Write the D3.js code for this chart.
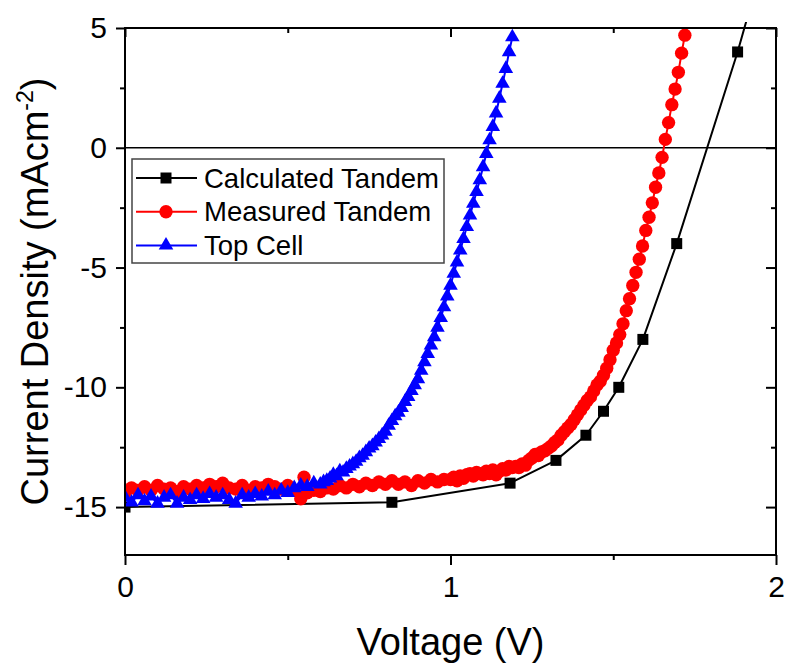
<!DOCTYPE html>
<html>
<head>
<meta charset="utf-8">
<script src="https://cdn.jsdelivr.net/npm/d3@7/dist/d3.min.js"></script>
<style>
  body { margin: 0; background: #fff; }
  svg { display: block; }
  text { font-family: "Liberation Sans", Arial, Helvetica, sans-serif; fill: #000; }
</style>
</head>
<body>
<svg id="chart" width="786" height="663"></svg>
<script>
// ---- J–V data (voltage in V, current density in mA cm^-2) ----
const seriesNames = ["Calculated Tandem", "Measured Tandem", "Top Cell"];
const seriesColors = ["#000000", "#ff0000", "#0000ff"];

const calculatedV = [0, 0.82, 1.183, 1.324, 1.416, 1.47, 1.517, 1.591, 1.695, 1.882, 1.98];
const calculatedJ = [-15, -14.8, -14.0, -13.05, -12.0, -11.0, -10.0, -8.0, -4.0, 4.0, 8.7];

const measuredV = [
  0.00, 0.02, 0.04, 0.06, 0.08, 0.10, 0.12, 0.14, 0.16, 0.18,
  0.20, 0.22, 0.24, 0.26, 0.28, 0.30, 0.32, 0.34, 0.36, 0.38,
  0.40, 0.42, 0.44, 0.46, 0.48, 0.50, 0.52, 0.54, 0.55, 0.56,
  0.58, 0.60, 0.62, 0.64, 0.66, 0.68, 0.70, 0.72, 0.74, 0.76,
  0.78, 0.80, 0.82, 0.84, 0.86, 0.88, 0.90, 0.92, 0.94, 0.96, 0.98,
  1.00, 1.01, 1.02, 1.03, 1.04, 1.05, 1.06, 1.07, 1.08, 1.09,
  1.10, 1.11, 1.12, 1.13, 1.14, 1.15, 1.16, 1.17, 1.18, 1.19,
  1.20, 1.21, 1.22, 1.23, 1.24, 1.25, 1.26, 1.27, 1.28, 1.29,
  1.30, 1.31, 1.32, 1.33, 1.34, 1.35, 1.36, 1.37, 1.38, 1.39,
  1.40, 1.41, 1.42, 1.43, 1.44, 1.45, 1.46, 1.47, 1.48, 1.49,
  1.50, 1.51, 1.52, 1.53, 1.54, 1.55, 1.56, 1.57, 1.58, 1.59,
  1.60, 1.61, 1.62, 1.63, 1.64, 1.65, 1.66, 1.67, 1.68, 1.69,
  1.70, 1.71, 1.72
];
const measuredJ = [
  -14.4, -14.2, -14.3, -14.15, -14.3, -14.1, -14.25, -14.2, -14.35, -14.15,
  -14.25, -14.1, -14.2, -14.05, -14.15, -14.0, -14.2, -14.25, -14.1, -14.3,
  -14.15, -14.2, -14.05, -14.15, -14.25, -14.1, -14.3, -14.65, -13.75, -14.4,
  -14.3, -14.35, -14.2, -14.25, -14.1, -14.2, -14.05, -14.15, -14.0, -14.1,
  -13.95, -14.05, -13.9, -14.05, -13.95, -14.1, -13.9, -14.0, -13.85, -13.95, -13.85,
  -13.85, -13.75, -13.9, -13.7, -13.8, -13.65, -13.6, -13.7, -13.55, -13.6,
  -13.65, -13.5, -13.6, -13.45, -13.65, -13.5, -13.4, -13.45, -13.3, -13.35,
  -13.3, -13.35, -13.2, -13.25, -13.05, -12.95, -12.8, -12.85, -12.7, -12.65,
  -12.55, -12.45, -12.3, -12.2, -12.0, -11.85, -11.7, -11.55, -11.35, -11.15,
  -10.95, -10.75, -10.55, -10.4, -10.15, -9.9, -9.75, -9.5, -9.2, -8.85,
  -8.45, -8.15, -7.8, -7.35, -6.8, -6.3, -5.75, -5.2, -4.65, -4.1,
  -3.45, -2.9, -2.3, -1.65, -1.05, -0.4, 0.35, 1.05, 1.8, 2.45,
  3.15, 3.95, 4.7
];

const topCellV = [
  0.00, 0.02, 0.04, 0.06, 0.08, 0.10, 0.12, 0.14, 0.16, 0.18,
  0.20, 0.22, 0.24, 0.26, 0.28, 0.30, 0.32, 0.34, 0.36, 0.38,
  0.40, 0.42, 0.44, 0.46, 0.48, 0.50, 0.52, 0.54, 0.56, 0.58,
  0.60, 0.61, 0.62, 0.63, 0.64, 0.65, 0.66, 0.67, 0.68, 0.69,
  0.70, 0.71, 0.72, 0.73, 0.74, 0.75, 0.76, 0.77, 0.78, 0.79,
  0.80, 0.81, 0.82, 0.83, 0.84, 0.85, 0.86, 0.87, 0.88, 0.89,
  0.90, 0.91, 0.92, 0.93, 0.94, 0.95, 0.96, 0.97, 0.98, 0.99,
  1.00, 1.01, 1.02, 1.03, 1.04, 1.05, 1.06, 1.07, 1.08, 1.09,
  1.10, 1.11, 1.12, 1.13, 1.14, 1.15, 1.16, 1.17, 1.18, 1.19
];
const topCellJ = [
  -14.6, -14.8, -14.5, -14.75, -14.55, -14.85, -14.6, -14.5, -14.85, -14.6,
  -14.7, -14.5, -14.65, -14.45, -14.6, -14.5, -14.7, -14.85, -14.5, -14.6,
  -14.45, -14.55, -14.35, -14.5, -14.3, -14.4, -14.2, -14.1, -14.15, -14.0,
  -14.05, -13.95, -13.9, -13.8, -13.65, -13.7, -13.5, -13.55, -13.4, -13.3,
  -13.2, -13.1, -12.95, -12.85, -12.7, -12.55, -12.45, -12.3, -12.15, -12.0,
  -11.85, -11.6, -11.4, -11.2, -11.05, -10.85, -10.6, -10.4, -10.15, -9.9,
  -9.65, -9.3, -8.95, -8.6, -8.25, -7.9, -7.5, -7.1, -6.65, -6.2,
  -5.75, -5.25, -4.78, -4.28, -3.8, -3.3, -2.82, -2.33, -1.84, -1.35,
  -0.8, -0.25, 0.32, 0.88, 1.44, 2.06, 2.68, 3.3, 4.0, 4.62
];

const xTickValues = [0, 1, 2];
const xMinorValues = [0.5, 1.5];
const yTickValues = [5, 0, -5, -10, -15];
const yMinorValues = [2.5, -2.5, -7.5, -12.5];
const xTitle = "Voltage (V)";
const yTitle = "Current Density (mAcm";
const yTitleSup = "-2";

// ---- layout ----
const svg = d3.select("#chart");
const plotLeft = 125, plotRight = 776, plotTop = 28, plotBottom = 555;
const x = d3.scaleLinear().domain([0, 2]).range([plotLeft, plotRight]);
const y = d3.scaleLinear().domain([-17, 5]).range([plotBottom, plotTop]);

const zip = (vs, js) => vs.map((v, i) => ({ v, j: js[i] }));
const series = [
  { name: seriesNames[0], color: seriesColors[0], data: zip(calculatedV, calculatedJ), shape: "square" },
  { name: seriesNames[1], color: seriesColors[1], data: zip(measuredV, measuredJ), shape: "circle" },
  { name: seriesNames[2], color: seriesColors[2], data: zip(topCellV, topCellJ), shape: "triangle" }
];

svg.append("defs").append("clipPath").attr("id", "plotClip")
  .append("rect").attr("x", plotLeft).attr("y", plotTop - 6)
  .attr("width", plotRight - plotLeft).attr("height", plotBottom - plotTop + 6);

// zero-current reference line
svg.append("line")
  .attr("x1", plotLeft).attr("x2", plotRight)
  .attr("y1", y(0)).attr("y2", y(0))
  .attr("stroke", "#000").attr("stroke-width", 1.6);

const symbolFor = shape => {
  if (shape === "square") return d3.symbol(d3.symbolSquare, 121)();
  if (shape === "triangle") return d3.symbol(d3.symbolTriangle, 92)();
  return d3.symbol(d3.symbolCircle, 140)();
};

const lineGen = d3.line().x(d => x(d.v)).y(d => y(d.j));
const plot = svg.append("g").attr("clip-path", "url(#plotClip)");

series.forEach(s => {
  const g = plot.append("g");
  g.append("path").datum(s.data)
    .attr("d", lineGen)
    .attr("fill", "none")
    .attr("stroke", s.color)
    .attr("stroke-width", 2)
    .attr("stroke-linejoin", "round");
  g.selectAll("path.mk").data(s.data).enter().append("path")
    .attr("class", "mk")
    .attr("d", symbolFor(s.shape))
    .attr("transform", d => `translate(${x(d.v)},${y(d.j)})`)
    .attr("fill", s.color);
});

// ---- axes ----
const plainNumber = d => String(d);   // hyphen-minus, as in the figure

function styleAxis(g) {
  g.select(".domain").remove();
  g.selectAll(".tick line").attr("stroke", "#000").attr("stroke-width", 2);
  g.selectAll(".tick text").attr("font-size", 30).attr("fill", "#000")
    .attr("font-family", '"Liberation Sans", Arial, sans-serif');
}

svg.append("g").attr("transform", `translate(0,${plotBottom})`)
  .call(d3.axisBottom(x).tickValues(xTickValues).tickFormat(plainNumber)
    .tickSize(10).tickSizeOuter(0).tickPadding(11)).call(styleAxis);
svg.append("g").attr("transform", `translate(0,${plotBottom})`)
  .call(d3.axisBottom(x).tickValues(xMinorValues).tickFormat("")
    .tickSize(5).tickSizeOuter(0)).call(styleAxis);

svg.append("g").attr("transform", `translate(${plotLeft},0)`)
  .call(d3.axisLeft(y).tickValues(yTickValues).tickFormat(plainNumber)
    .tickSize(9).tickSizeOuter(0).tickPadding(9)).call(styleAxis);
svg.append("g").attr("transform", `translate(${plotLeft},0)`)
  .call(d3.axisLeft(y).tickValues(yMinorValues).tickFormat("")
    .tickSize(5).tickSizeOuter(0)).call(styleAxis);

// mirrored inward ticks on top and right
svg.append("g").attr("transform", `translate(0,${plotTop})`)
  .call(d3.axisBottom(x).tickValues(xTickValues).tickFormat("")
    .tickSize(9).tickSizeOuter(0)).call(styleAxis);
svg.append("g").attr("transform", `translate(0,${plotTop})`)
  .call(d3.axisBottom(x).tickValues(xMinorValues).tickFormat("")
    .tickSize(5).tickSizeOuter(0)).call(styleAxis);
svg.append("g").attr("transform", `translate(${plotRight},0)`)
  .call(d3.axisLeft(y).tickValues(yTickValues).tickFormat("")
    .tickSize(10).tickSizeOuter(0)).call(styleAxis);
svg.append("g").attr("transform", `translate(${plotRight},0)`)
  .call(d3.axisLeft(y).tickValues(yMinorValues).tickFormat("")
    .tickSize(5).tickSizeOuter(0)).call(styleAxis);

// plot frame
svg.append("rect")
  .attr("x", plotLeft).attr("y", plotTop)
  .attr("width", plotRight - plotLeft).attr("height", plotBottom - plotTop)
  .attr("fill", "none").attr("stroke", "#000").attr("stroke-width", 2);

// ---- axis titles ----
svg.append("text")
  .attr("x", (plotLeft + plotRight) / 2).attr("y", 655)
  .attr("text-anchor", "middle").attr("font-size", 38)
  .text(xTitle);

const yt = svg.append("text")
  .attr("transform", `translate(48,${(plotTop + plotBottom) / 2}) rotate(-90)`)
  .attr("text-anchor", "middle").attr("font-size", 38);
yt.append("tspan").text(yTitle);
yt.append("tspan").attr("font-size", 23).attr("dy", -15).text(yTitleSup);
yt.append("tspan").attr("dy", 15).text(")");

// ---- legend ----
const lg = svg.append("g");
lg.append("rect")
  .attr("x", 132).attr("y", 159).attr("width", 312).attr("height", 104)
  .attr("fill", "#fff").attr("stroke", "#444").attr("stroke-width", 1.5);
series.forEach((s, i) => {
  const cy = 178 + i * 33.7;
  lg.append("line").attr("x1", 136).attr("x2", 197).attr("y1", cy).attr("y2", cy)
    .attr("stroke", s.color).attr("stroke-width", 2);
  lg.append("path").attr("d", symbolFor(s.shape))
    .attr("transform", `translate(166,${cy})`).attr("fill", s.color);
  lg.append("text").attr("x", 204).attr("y", cy + 9.5)
    .attr("font-size", 27.5).text(s.name);
});
</script>
</body>
</html>
